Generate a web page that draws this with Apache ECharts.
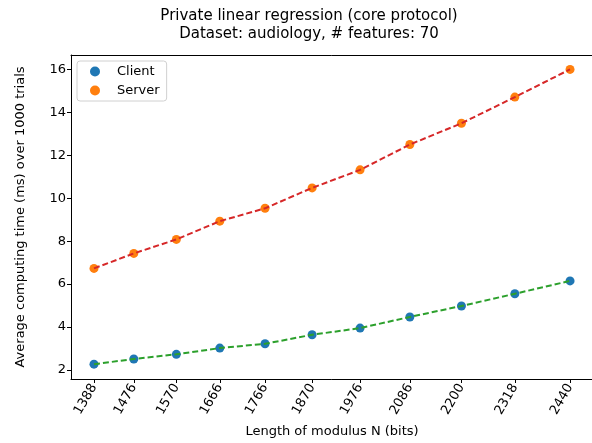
<!DOCTYPE html>
<html>
<head>
<meta charset="utf-8">
<script src="https://cdn.jsdelivr.net/npm/echarts@6/dist/echarts.min.js"></script>
<style>html,body{margin:0;padding:0;background:#fff}#c{width:592px;height:443px}</style>
</head>
<body>
<div id="c"></div>
<script>
var modulusBits = [1388, 1476, 1570, 1666, 1766, 1870, 1976, 2086, 2200, 2318, 2440];
var clientTimes = [2.27, 2.51, 2.73, 3.02, 3.22, 3.64, 3.95, 4.47, 4.98, 5.55, 6.15];
var serverTimes = [6.73, 7.43, 8.08, 8.93, 9.53, 10.48, 11.32, 12.50, 13.49, 14.71, 16.00];
var yTicks = [2, 4, 6, 8, 10, 12, 14, 16];

function pairs(xs, ys) { return xs.map(function (x, i) { return [x, ys[i]]; }); }

var font = 'DejaVu Sans';
var chart = echarts.init(document.getElementById('c'), null, {renderer: 'canvas'});
chart.setOption({
  animation: false,
  textStyle: {fontFamily: font},
  title: {
    text: 'Private linear regression (core protocol)\nDataset: audiology, # features: 70',
    left: 304, top: 2, textAlign: 'center',
    textStyle: {fontFamily: font, fontSize: 15, fontWeight: 'normal', color: '#000', lineHeight: 18}
  },
  legend: {
    orient: 'vertical', left: 77, top: 61,
    data: ['Client', 'Server'],
    icon: 'circle', itemWidth: 10, itemHeight: 10, itemGap: 6,
    padding: [4, 7, 4, 13],
    borderColor: '#d0d0d0', borderWidth: 1, borderRadius: 3,
    textStyle: {fontFamily: font, fontSize: 13, color: '#000', padding: [0, 0, 0, 12]}
  },
  grid: {left: 71, top: 55, width: 530, height: 324, containLabel: false, outerBoundsMode: 'none', show: false},
  xAxis: [{
    type: 'value', min: 1337.2, max: 2508.4,
    name: 'Length of modulus N (bits)', nameLocation: 'middle', nameGap: 46,
    nameTextStyle: {fontFamily: font, fontSize: 13, color: '#000', padding: [0, 8, 0, 0]},
    splitLine: {show: false},
    axisLine: {show: true, onZero: false, lineStyle: {color: '#000', width: 1}},
    axisTick: {show: true, length: 4, lineStyle: {color: '#000'}, customValues: modulusBits},
    axisLabel: {rotate: 60, fontFamily: font, fontSize: 13, color: '#000', margin: 6, customValues: modulusBits,
      formatter: function (v) { return String(v); }}
  }, {
    type: 'value', position: 'top', min: 1337.2, max: 2508.4,
    splitLine: {show: false}, axisTick: {show: false}, axisLabel: {show: false},
    axisLine: {show: true, onZero: false, lineStyle: {color: '#000', width: 1}}
  }],
  yAxis: {
    type: 'value', min: 1.58, max: 16.67,
    name: 'Average computing time (ms) over 1000 trials', nameLocation: 'middle', nameGap: 44, nameRotate: 90,
    nameTextStyle: {fontFamily: font, fontSize: 13, color: '#000'},
    splitLine: {show: false},
    axisLine: {show: true, lineStyle: {color: '#000', width: 1}},
    axisTick: {show: true, length: 4, lineStyle: {color: '#000'}, customValues: yTicks},
    axisLabel: {fontFamily: font, fontSize: 13, color: '#000', margin: 5, customValues: yTicks,
      formatter: function (v) { return String(v); }}
  },
  series: [
    {name: 'Client', type: 'scatter', data: pairs(modulusBits, clientTimes), symbolSize: 9,
      itemStyle: {color: '#1f77b4', opacity: 1}, z: 2},
    {name: 'Server', type: 'scatter', data: pairs(modulusBits, serverTimes), symbolSize: 9,
      itemStyle: {color: '#ff7f0e', opacity: 1}, z: 2},
    {name: 'clientFit', type: 'line', data: pairs(modulusBits, clientTimes), showSymbol: false, symbol: 'none',
      lineStyle: {color: '#2ca02c', width: 2, type: [6, 3]}, z: 3, silent: true},
    {name: 'serverFit', type: 'line', data: pairs(modulusBits, serverTimes), showSymbol: false, symbol: 'none',
      lineStyle: {color: '#d62728', width: 2, type: [6, 3]}, z: 3, silent: true}
  ]
});
</script>
</body>
</html>
